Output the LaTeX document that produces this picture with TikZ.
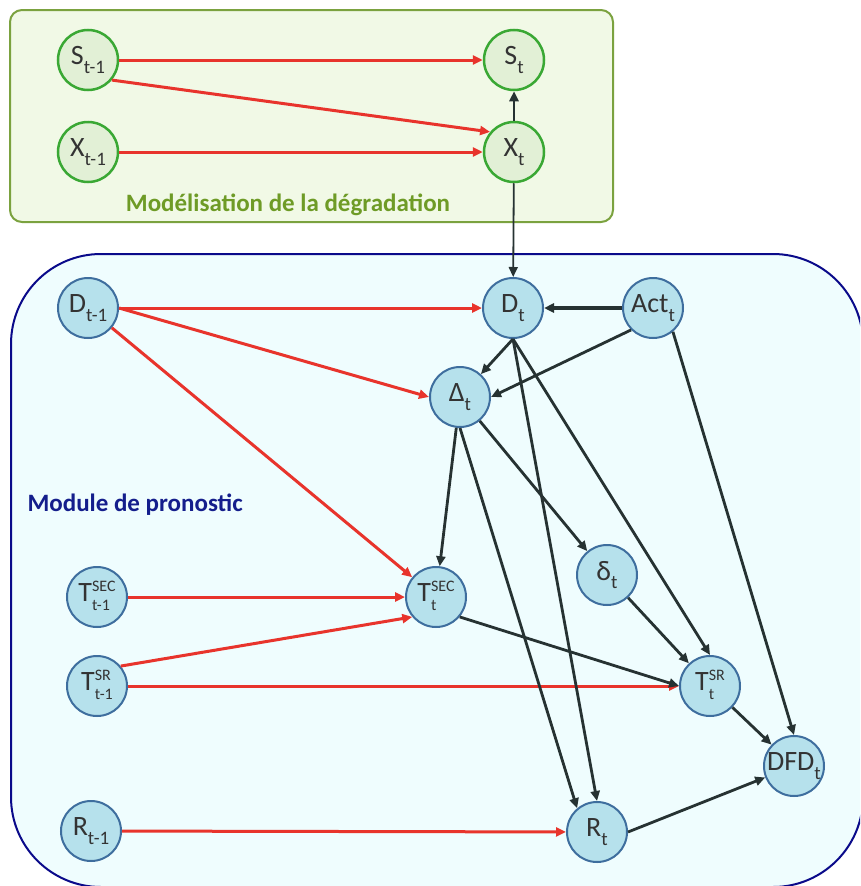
\documentclass[tikz,border=0pt]{standalone}
\usepackage{fontspec}
\setmainfont{Carlito}
\usetikzlibrary{arrows.meta}
\definecolor{clrR}{RGB}{232,52,44}
\definecolor{clrK}{RGB}{38,50,50}
\definecolor{clrGn}{RGB}{58,168,52}
\definecolor{clrGf}{RGB}{226,240,214}
\definecolor{clrGb}{RGB}{123,162,63}
\definecolor{clrGt}{RGB}{110,155,38}
\definecolor{clrGbg}{RGB}{241,249,230}
\definecolor{clrBn}{RGB}{62,110,158}
\definecolor{clrBf}{RGB}{182,225,236}
\definecolor{clrBb}{RGB}{10,10,138}
\definecolor{clrBbg}{RGB}{239,253,254}
\definecolor{clrBt}{RGB}{20,30,140}
\newcommand{\nvar}[2]{#1\raisebox{-0.3em}{\fontsize{19}{19}\selectfont #2}}
\newcommand{\nvarx}[3]{#1\raisebox{-0.3em}{\fontsize{16}{19}\selectfont
  \begin{tabular}[b]{@{}l@{}}#2\\#3\end{tabular}}}

\begin{document}
\begin{tikzpicture}[x=1pt,y=-1pt,
   gnode/.style={circle,draw=clrGn,fill=clrGf,line width=2.5pt,minimum size=60pt,
     inner sep=0pt,text=black!80,font=\fontsize{28}{30}\selectfont},
   bnode/.style={circle,draw=clrBn,fill=clrBf,line width=2pt,minimum size=60pt,
     inner sep=0pt,text=black!80,font=\fontsize{28}{30}\selectfont},
   rar/.style={-{Triangle[length=10pt,width=9pt]},line width=3pt,draw=clrR},
   kar/.style={-{Triangle[length=10pt,width=9pt]},line width=2.8pt,draw=clrK},
   ttl/.style={font=\fontsize{25}{27}\selectfont\bfseries}]

  \useasboundingbox (0,0) rectangle (860,886);
  \clip (0,0) rectangle (860,886);

  \draw[draw=clrGb,fill=clrGbg,line width=2pt,rounded corners=12pt] (10,10) rectangle (613,222);
  \draw[draw=clrBb,fill=clrBbg,line width=2pt,rounded corners=90pt] (11,254) rectangle (863,887);

  \node[ttl,text=clrGt] (ttlG) at (288,205) {Modélisation de la dégradation};
  \node[ttl,text=clrBt,anchor=base west] (ttlB) at (24,511) {Module de pronostic};

  \node[gnode] (s1) at (88,60) {\nvar{S}{t-1}};
  \node[gnode] (st) at (514,60) {\nvar{S}{t}};
  \node[gnode] (x1) at (88,152) {\nvar{X}{t-1}};
  \node[gnode] (xt) at (514,152) {\nvar{X}{t}};

  \node[bnode] (d1) at (88,308) {\nvar{D}{t-1}};
  \node[bnode] (dt) at (513,308) {\nvar{D}{t}};
  \node[bnode] (act) at (653,308) {\nvar{Act}{t}};
  \node[bnode] (delta) at (460,397) {\nvar{Δ}{t}};
  \node[bnode] (dl) at (607,575) {\nvar{δ}{t}};
  \node[bnode] (tsec1) at (97,597) {\nvarx{T}{SEC}{t-1}};
  \node[bnode] (tsec) at (436,597) {\nvarx{T}{SEC}{t}};
  \node[bnode] (tsr1) at (97,686) {\nvarx{T}{SR}{t-1}};
  \node[bnode] (tsr) at (710,686) {\nvarx{T}{SR}{t}};
  \node[bnode] (dfd) at (794,766) {\nvar{DFD}{t}};
  \node[bnode] (r1) at (91,831) {\nvar{R}{t-1}};
  \node[bnode] (rt) at (597,832) {\nvar{R}{t}};

  \draw[rar] (s1) -- (st); \draw[rar] (s1.-40) -- (xt.140); \draw[rar] (x1) -- (xt);
  \draw[kar] (xt) -- (st);
  \draw[kar,line width=1.8pt] (xt) -- (dt);

  \draw[rar] (d1.east) -- (dt.west); \draw[rar] (d1.east) -- (delta.west);
  \draw[rar] (d1) -- (tsec);
  \draw[rar] (tsec1) -- (tsec); \draw[rar] (tsr1.40) -- (tsec.-140);
  \draw[rar] (tsr1) -- (tsr); \draw[rar] (r1) -- (rt);

  \draw[kar,line width=3.8pt] (act) -- (dt);
  \draw[kar] (act.-135) -- (delta.east); \draw[kar] (act.-50) -- (dfd.north);
  \draw[kar] (dt.south) -- (delta); \draw[kar] (dt.south) -- (rt.north);
  \draw[kar] (dt.south) -- (tsr.north);
  \draw[kar] (delta) -- (tsec); \draw[kar] (delta) -- (dl);
  \draw[kar] (delta.south) -- (rt.130);
  \draw[kar] (dl) -- (tsr); \draw[kar] (tsec.-40) -- (tsr.west);
  \draw[kar] (tsr) -- (dfd); \draw[kar] (rt.east) -- (dfd);
\end{tikzpicture}
\end{document}
